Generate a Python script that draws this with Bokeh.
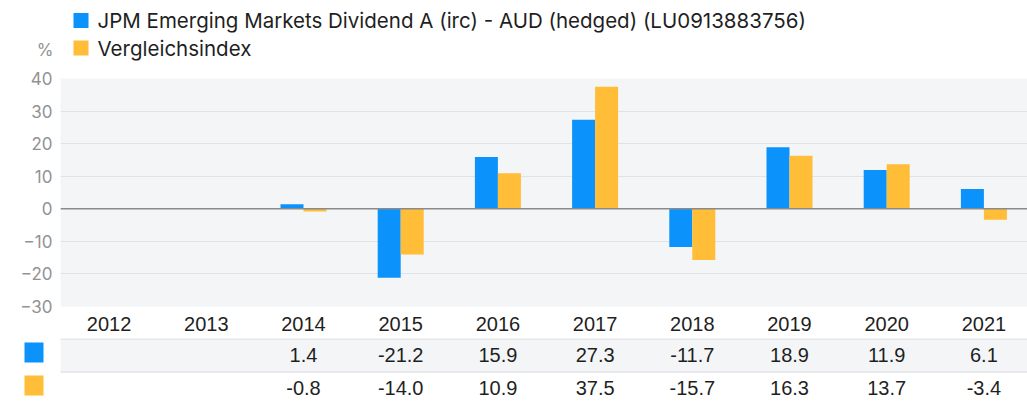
from bokeh.plotting import figure
from bokeh.models import Range1d, FixedTicker, Span, ColumnDataSource
from bokeh.layouts import column
from bokeh.transform import dodge
from bokeh.embed import file_html
from bokeh.resources import INLINE
from bokeh.core.properties import value

# ---------------- data ----------------
years = ["2012", "2013", "2014", "2015", "2016", "2017", "2018", "2019", "2020", "2021"]
fund = [None, None, 1.4, -21.2, 15.9, 27.3, -11.7, 18.9, 11.9, 6.1]
bench = [None, None, -0.8, -14.0, 10.9, 37.5, -15.7, 16.3, 13.7, -3.4]
series_names = ["JPM Emerging Markets Dividend A (irc) - AUD (hedged) (LU0913883756)",
                "Vergleichsindex"]
series_colors = ["#0b93fb", "#ffbd38"]
y_ticks = [-30, -20, -10, 0, 10, 20, 30, 40]
unit_label = "%"

# ---------------- layout constants ----------------
W, H = 1027, 403
LEFT = 60
STEP = 97.2
LEG_H = 68
CHART_TOP = 10
FRAME_H = 228
CHART_BOTTOM = 32
TABLE_H = H - LEG_H - CHART_TOP - FRAME_H - CHART_BOTTOM
X_END = (W - LEFT) / STEP
BAR_W = 23 / STEP
FONT = "Liberation Sans"
LEG_FONT = "Inter"
AXIS_FONT = "Inter"
TEXT_COLOR = "#1f1f1f"
AXIS_COLOR = "#929292"
PLOT_BG = "#f4f5f7"
GRID = "#e1e2e6"


def blank(height, x_range, y_range):
    f = figure(width=W, height=height, x_range=x_range, y_range=y_range,
               output_backend="svg", toolbar_location=None,
               x_axis_location=None, y_axis_location=None,
               min_border=0, min_border_left=0, min_border_right=0,
               min_border_top=0, min_border_bottom=0)
    f.frame_align = False
    f.outline_line_color = None
    f.xgrid.visible = False
    f.ygrid.visible = False
    f.background_fill_color = "white"
    f.border_fill_color = "white"
    return f


# ---------------- legend (top) ----------------
leg = blank(LEG_H, Range1d(0, W), Range1d(LEG_H, 0))
leg_y = [20, 47.5]
leg.rect(x=[80.5] * 2, y=leg_y, width=15, height=15, fill_color=series_colors,
         line_color=None)
leg.text(x=[97] * 2, y=leg_y, text=series_names, text_font=value(LEG_FONT),
         text_font_size="20.5px", text_color=TEXT_COLOR, text_baseline="middle",
         text_align="left")
leg.text(x=[53], y=[49], text=[unit_label], text_font=value(AXIS_FONT),
         text_font_size="17px", text_color=AXIS_COLOR, text_baseline="middle",
         text_align="right")

# ---------------- chart ----------------
idx = [i + 0.5 for i in range(len(years))]
p = figure(width=W, height=CHART_TOP + FRAME_H + CHART_BOTTOM,
           x_range=Range1d(0, X_END), y_range=Range1d(y_ticks[0], y_ticks[-1]),
           output_backend="svg", toolbar_location=None,
           min_border_left=LEFT, min_border_right=0,
           min_border_top=CHART_TOP, min_border_bottom=CHART_BOTTOM)
p.frame_align = False
p.outline_line_color = None
p.background_fill_color = PLOT_BG
p.border_fill_color = "white"

for k, (vals, off) in enumerate([(fund, -BAR_W / 2), (bench, BAR_W / 2)]):
    xs = [idx[i] for i, v in enumerate(vals) if v is not None]
    tops = [v for v in vals if v is not None]
    src = ColumnDataSource(dict(x=xs, top=tops))
    p.vbar(x=dodge("x", off), top="top", bottom=0, width=BAR_W, source=src,
           fill_color=series_colors[k], line_color=None)

p.add_layout(Span(location=0, dimension="width", line_color="#8a8a8a",
                  line_width=1.5))

p.xgrid.visible = False
p.ygrid.ticker = FixedTicker(ticks=y_ticks)
p.ygrid.grid_line_color = GRID
p.ygrid.grid_line_width = 1

p.yaxis.ticker = FixedTicker(ticks=y_ticks)
p.yaxis.axis_line_color = None
p.yaxis.major_tick_line_color = None
p.yaxis.major_tick_out = 0
p.yaxis.major_tick_in = 0
p.yaxis.minor_tick_line_color = None
p.yaxis.major_label_text_font = AXIS_FONT
p.yaxis.major_label_text_font_size = "17px"
p.yaxis.major_label_text_color = AXIS_COLOR
p.yaxis.major_label_standoff = 8

p.xaxis.ticker = FixedTicker(ticks=idx)
p.xaxis.major_label_overrides = {x: y for x, y in zip(idx, years)}
p.xaxis.axis_line_color = None
p.xaxis.major_tick_line_color = None
p.xaxis.major_tick_out = 0
p.xaxis.major_tick_in = 0
p.xaxis.minor_tick_line_color = None
p.xaxis.major_label_text_font = FONT
p.xaxis.major_label_text_font_size = "20px"
p.xaxis.major_label_text_color = TEXT_COLOR
p.xaxis.major_label_standoff = 10

# ---------------- table (bottom) ----------------
tbl = blank(TABLE_H, Range1d(-LEFT / STEP, X_END), Range1d(TABLE_H, 0))
ROW_H = 33.5
tbl.quad(left=[0], right=[X_END], top=[0], bottom=[ROW_H], fill_color=PLOT_BG,
         line_color=None)
tbl.segment(x0=[0, 0], x1=[X_END, X_END], y0=[0.5, ROW_H], y1=[0.5, ROW_H],
            line_color=GRID, line_width=1.5)
sq_x = -(LEFT - 33.5) / STEP
row_y = [16.5, 49.5]
tbl.rect(x=[sq_x] * 2, y=[14, 47], width=19, height=20, width_units="screen",
         height_units="screen", fill_color=series_colors, line_color=None)
for vals, ry in zip([fund, bench], row_y):
    xs = [idx[i] for i, v in enumerate(vals) if v is not None]
    labels = [f"{v:.1f}" for v in vals if v is not None]
    tbl.text(x=xs, y=[ry] * len(xs), text=labels, text_font=value(FONT),
             text_font_size="20px", text_color=TEXT_COLOR,
             text_baseline="middle", text_align="center")

layout = column(leg, p, tbl, spacing=0)
open("out.html", "w").write(file_html(layout, INLINE))
